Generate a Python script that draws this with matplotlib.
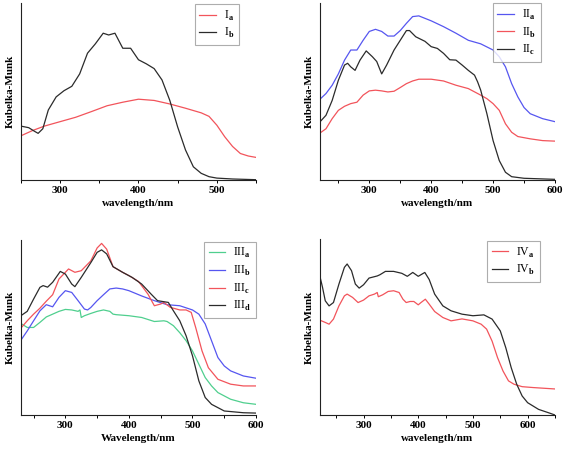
import matplotlib
matplotlib.use("Agg")
import matplotlib.pyplot as plt
from matplotlib.ticker import MultipleLocator

plt.rcParams['font.family'] = 'Liberation Serif'
plt.rcParams['mathtext.fontset'] = 'custom'
plt.rcParams['mathtext.rm'] = 'Liberation Serif'
plt.rcParams['mathtext.bf'] = 'Liberation Serif:bold'

RED = '#f2545b'
BLUE = '#5656f0'
GREEN = '#4fcf8e'
BLACK = '#2b2b2b'

# panel I
w1a = [250, 265, 280, 300, 320, 340, 360, 380, 400, 420, 440, 460, 480, 490, 500, 510, 520, 530, 540, 550]
Ia = [25, 28, 30.5, 33, 35.5, 38.7, 42, 44, 45.7, 45, 43, 40.6, 38, 36, 31, 24.5, 19, 15, 13.6, 12.8]
w1b = [250, 260, 268, 272, 278, 285, 295, 305, 315, 325, 335, 345, 355, 362, 370, 380, 390, 400, 410,
       420, 430, 440, 450, 460, 470, 480, 490, 500, 520, 550]
Ib = [30.5, 29.6, 27.4, 26.4, 29, 39.6, 47, 50.5, 53, 60, 71.7, 77, 83, 82, 83, 74.5, 74.5, 68, 65.7,
      63, 56.6, 45, 30, 17, 7.5, 3.8, 1.9, 1.1, 0.6, 0.2]

# panel II
w2 = [220, 230, 240, 250, 260, 270, 280, 290, 300, 310, 320, 330, 340, 350, 360, 370, 380, 400, 420,
      440, 460, 480, 500, 510, 520, 530, 540, 550, 560, 580, 600]
IIa = [45.6, 48.9, 53.6, 60, 67.8, 73.5, 73.5, 79, 84, 85.2, 84, 81.4, 81.4, 84.5, 88.6, 92.4, 92.8, 90, 86.7,
       83, 79, 77, 73.5, 69.7, 64, 54.5, 47, 41, 37.5, 34.7, 33]
w2b = [220, 230, 240, 250, 260, 270, 280, 290, 300, 310, 320, 330, 340, 350, 360, 370, 380, 400, 420,
       440, 460, 480, 490, 500, 510, 520, 530, 540, 560, 580, 600]
IIb = [26.5, 29, 34.7, 39.4, 41.7, 43.2, 44, 48, 50.4, 50.8, 50.4, 49.8, 50.2, 52.3, 54.5, 56, 57, 57, 56,
       53.6, 51.7, 48, 46, 43.2, 39.4, 31.8, 27, 24.6, 23.3, 22.3, 22]
w2c = [220, 230, 240, 250, 260, 265, 270, 277, 285, 295, 305, 312, 320, 328, 340, 350, 360, 365, 375, 390,
       400, 410, 420, 430, 440, 450, 460, 470, 475, 480, 490, 500, 510, 520, 530, 550, 600]
IIc = [32.8, 36.6, 45, 56.4, 65, 66, 64, 62, 67.8, 73, 69.7, 67, 60, 65, 73.5, 79, 84.5, 84.5, 81, 78.4,
       75.4, 74.4, 71.6, 68, 67.8, 65, 62, 59.3, 55.5, 50.8, 37.5, 22.3, 11, 4.4, 1.9, 1, 0.4]

# panel III
w3a = [230, 240, 250, 260, 270, 280, 290, 300, 310, 320, 323, 325, 330, 340, 350, 360, 370, 375, 380, 400,
       420, 440, 455, 460, 470, 480, 490, 500, 510, 520, 530, 540, 560, 580, 600]
IIIa = [52.3, 50, 50, 52.9, 56, 57.6, 59.2, 60.3, 60, 59.2, 60, 55.7, 56.7, 58, 59.2, 60, 59.2, 57.6, 57.3, 56.7,
        55.7, 53.4, 53.8, 53.4, 51, 47, 42.4, 36.6, 29, 21.4, 16.6, 12.8, 9, 7, 6.1]
w3b = [230, 240, 250, 260, 270, 280, 290, 300, 310, 320, 330, 335, 340, 350, 360, 370, 380, 390, 400, 420,
       440, 460, 480, 500, 510, 520, 530, 540, 550, 560, 580, 600]
IIIb = [42.7, 48, 53.8, 59.5, 63, 61.8, 67.2, 71, 70, 65.3, 60.5, 60, 61.4, 65.3, 68.7, 72, 72.5, 72, 71, 68,
        65.3, 63, 62.4, 60, 57.6, 52, 42.4, 32.8, 28, 25.2, 22.3, 21]
w3c = [230, 240, 250, 260, 270, 280, 290, 300, 305, 315, 325, 340, 350, 357, 365, 375, 390, 400, 415, 430,
       440, 450, 455, 465, 480, 490, 498, 505, 515, 525, 540, 560, 580, 600]
IIIc = [49.6, 53.8, 57.6, 61, 65, 68.7, 77.7, 81.5, 83.4, 81.5, 82.4, 88, 95.4, 98, 94.7, 84.7, 81.5, 79.6, 76.3, 69,
        62.4, 63.4, 64.3, 61.5, 60, 60, 58.6, 50, 36.6, 27, 20.4, 17.6, 16.6, 16.6]
w3d = [230, 240, 250, 260, 265, 272, 280, 292, 300, 310, 315, 325, 340, 350, 357, 365, 375, 390, 405, 420,
       435, 445, 455, 462, 470, 480, 490, 500, 510, 520, 530, 550, 580, 600]
IIId = [56.7, 59.2, 66.2, 72.9, 73.9, 73, 75.8, 82, 80.5, 74.8, 73.3, 78.6, 87, 92.9, 94.3, 92, 84.7, 81.5, 78.6, 74.8,
        69, 65.3, 64.7, 64.3, 59.5, 53.8, 45.2, 33.8, 19.5, 10, 6.1, 2.3, 1.3, 1.1]

# panel IV
w4a = [220, 230, 237, 245, 255, 265, 270, 280, 290, 300, 310, 320, 325, 327, 335, 345, 355, 365, 372, 378,
       385, 392, 400, 405, 413, 420, 430, 445, 460, 480, 500, 515, 525, 535, 545, 555, 565, 575, 590, 610, 650]
IVa = [53.9, 52.6, 51.6, 54.5, 62, 67.7, 68.7, 66.8, 63.9, 65.3, 67.7, 68.7, 69.6, 67.2, 68.3, 70.2, 70.6, 69.6, 65.8, 63.9,
       64.5, 64.5, 62.6, 63.9, 65.8, 63, 58.8, 55.4, 53.5, 54.6, 53.5, 51.6, 48.8, 42, 32.6, 25, 19.4, 17.5, 16.1, 15.6, 14.8]
w4b = [220, 225, 230, 237, 245, 255, 265, 270, 278, 285, 292, 300, 310, 320, 325, 330, 340, 355, 370, 380,
       390, 400, 412, 420, 430, 445, 460, 480, 500, 520, 535, 550, 560, 570, 580, 590, 600, 620, 640, 650]
IVb = [79.1, 72.5, 64.9, 62, 63.9, 74.4, 83.9, 85.8, 82, 74.4, 72.1, 74, 77.8, 78.6, 79, 79.7, 81.6, 81.6, 80.5, 78.8,
       81, 78.8, 81, 77, 68.7, 62, 59.2, 57.3, 56.4, 56.9, 54.5, 47.8, 38.3, 26.9, 17.5, 10.8, 7, 3.2, 1.1, 0]

fig = plt.figure(figsize=(5.64, 4.49), dpi=100)

def setup(rect, xlim, major, minor, xlabel):
    ax = fig.add_axes(rect)
    ax.set_xlim(*xlim)
    ax.set_ylim(0, 100)
    ax.spines['top'].set_visible(False)
    ax.spines['right'].set_visible(False)
    for s in ['left', 'bottom']:
        ax.spines[s].set_linewidth(0.8)
        ax.spines[s].set_color('#222222')
    ax.xaxis.set_major_locator(MultipleLocator(major))
    ax.xaxis.set_minor_locator(MultipleLocator(minor))
    ax.tick_params(axis='x', which='both', direction='out', length=2, width=0.7, pad=2)
    ax.tick_params(axis='y', left=False, labelleft=False)
    for lab in ax.get_xticklabels():
        lab.set_fontweight('bold')
        lab.set_fontsize(8)
    ax.set_xlabel(xlabel, fontsize=8, fontweight='bold', labelpad=3)
    ax.set_ylabel('Kubelka-Munk', fontsize=8, fontweight='bold', labelpad=4)
    return ax

def leg(ax, anchor):
    l = ax.legend(loc='upper right', bbox_to_anchor=anchor, fontsize=8.5, frameon=True, fancybox=False,
                  handlelength=1.4, handletextpad=0.7, borderpad=0.4, labelspacing=0.3, borderaxespad=0)
    l.get_frame().set_edgecolor('#999999')
    l.get_frame().set_linewidth(0.8)

def lab(num, sub):
    return num + r'$_{\mathbf{' + sub + '}}$'

ax1 = setup([0.037, 0.599, 0.417, 0.394], (250, 550), 100, 50, 'wavelength/nm')
ax1.plot(w1a, Ia, color=RED, lw=0.9, label=lab('I', 'a'))
ax1.plot(w1b, Ib, color=BLACK, lw=0.9, label=lab('I', 'b'))
leg(ax1, (0.928, 0.995))

ax2 = setup([0.567, 0.599, 0.417, 0.394], (220, 600), 100, 50, 'wavelength/nm')
ax2.plot(w2, IIa, color=BLUE, lw=0.9, label=lab('II', 'a'))
ax2.plot(w2b, IIb, color=RED, lw=0.9, label=lab('II', 'b'))
ax2.plot(w2c, IIc, color=BLACK, lw=0.9, label=lab('II', 'c'))
leg(ax2, (0.94, 1.0))

ax3 = setup([0.037, 0.0757, 0.417, 0.390], (230, 600), 100, 50, 'Wavelength/nm')
ax3.plot(w3a, IIIa, color=GREEN, lw=0.9, label=lab('III', 'a'))
ax3.plot(w3b, IIIb, color=BLUE, lw=0.9, label=lab('III', 'b'))
ax3.plot(w3c, IIIc, color=RED, lw=0.9, label=lab('III', 'c'))
ax3.plot(w3d, IIId, color=BLACK, lw=0.9, label=lab('III', 'd'))
leg(ax3, (1.0, 0.99))

ax4 = setup([0.567, 0.0757, 0.417, 0.392], (220, 650), 100, 50, 'wavelength/nm')
ax4.plot(w4a, IVa, color=RED, lw=0.9, label=lab('IV', 'a'))
ax4.plot(w4b, IVb, color=BLACK, lw=0.9, label=lab('IV', 'b'))
leg(ax4, (0.936, 0.99))

fig.savefig('out.png', dpi=100)
